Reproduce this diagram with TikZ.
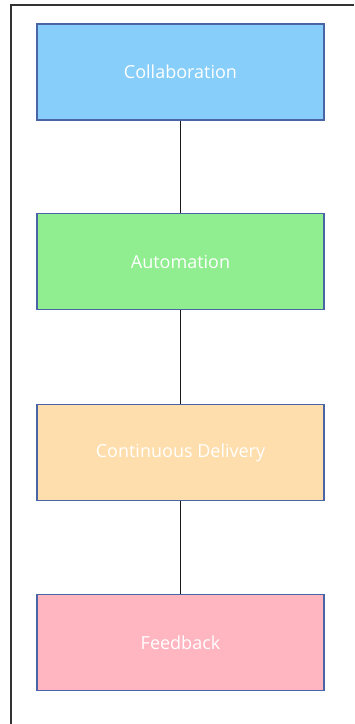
\documentclass[tikz,border=0pt]{standalone}
\usepackage{fontspec}
\setmainfont{Open Sans}
\definecolor{cblue}{HTML}{87CEFA}
\definecolor{cgreen}{HTML}{90EE90}
\definecolor{cpeach}{HTML}{FFDEAD}
\definecolor{cpink}{HTML}{FFB6C1}
\definecolor{cborder}{HTML}{4A65A5}
\begin{document}
\begin{tikzpicture}[x=1pt,y=-1pt,
  stage/.style={draw=cborder, line width=1.5pt, minimum width=287pt, minimum height=96pt,
    inner sep=0pt, text=white, font=\fontsize{18}{21}\selectfont},
  link/.style={draw=black!90, line width=1.8pt}]
\useasboundingbox (0,0) rectangle (354,724);
\draw[draw=black!80, line width=1.2pt] (11,724) -- (11,5) -- (354,5);
\node[stage, fill=cblue] (c) at (180.5,72) {Collaboration};
\node[stage, fill=cgreen] (a) at (180.5,261.5) {Automation};
\node[stage, fill=cpeach] (d) at (180.5,452.5) {Continuous Delivery};
\node[stage, fill=cpink] (f) at (180.5,642.5) {Feedback};
\draw[link] (c) -- (a);
\draw[link] (a) -- (d);
\draw[link] (d) -- (f);
\end{tikzpicture}
\end{document}
